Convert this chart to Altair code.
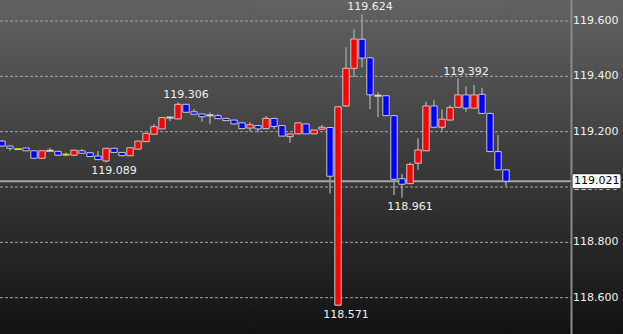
import altair as alt
import pandas as pd

opens = [119.166, 119.148, 119.137, 119.141, 119.131, 119.104, 119.131, 119.129, 119.117, 119.115,
         119.131, 119.124, 119.112, 119.094, 119.140, 119.125, 119.113, 119.137, 119.164, 119.191,
         119.210, 119.251, 119.246, 119.299, 119.272, 119.264, 119.259, 119.258, 119.248, 119.242,
         119.232, 119.213, 119.222, 119.211, 119.248, 119.222, 119.182, 119.192, 119.228, 119.192,
         119.209, 119.215, 118.573, 119.293, 119.429, 119.534, 119.467, 119.330, 119.330, 119.258,
         119.030, 119.012, 119.086, 119.131, 119.293, 119.216, 119.242, 119.288, 119.333, 119.285,
         119.335, 119.266, 119.128, 119.062]
highs = [119.170, 119.150, 119.139, 119.141, 119.131, 119.131, 119.141, 119.129, 119.124, 119.133,
         119.137, 119.124, 119.130, 119.140, 119.140, 119.125, 119.142, 119.166, 119.194, 119.227,
         119.251, 119.251, 119.306, 119.300, 119.282, 119.264, 119.269, 119.263, 119.248, 119.242,
         119.232, 119.234, 119.222, 119.257, 119.248, 119.222, 119.192, 119.232, 119.228, 119.206,
         119.224, 119.215, 119.291, 119.505, 119.570, 119.624, 119.467, 119.342, 119.330, 119.258,
         119.047, 119.089, 119.176, 119.308, 119.315, 119.281, 119.296, 119.392, 119.363, 119.369,
         119.359, 119.268, 119.188, 119.062]
lows = [119.146, 119.131, 119.136, 119.131, 119.104, 119.104, 119.131, 119.115, 119.112, 119.115,
        119.122, 119.110, 119.099, 119.089, 119.125, 119.113, 119.113, 119.137, 119.164, 119.191,
        119.210, 119.239, 119.246, 119.270, 119.263, 119.236, 119.227, 119.247, 119.240, 119.228,
        119.211, 119.202, 119.198, 119.211, 119.210, 119.184, 119.160, 119.192, 119.192, 119.192,
        119.209, 118.977, 118.571, 119.289, 119.397, 119.433, 119.281, 119.252, 119.258, 118.971,
        118.961, 119.012, 119.062, 119.131, 119.216, 119.204, 119.242, 119.288, 119.272, 119.285,
        119.266, 119.128, 119.062, 119.004]
closes = [119.148, 119.140, 119.137, 119.131, 119.104, 119.131, 119.131, 119.115, 119.117, 119.133,
          119.122, 119.110, 119.099, 119.140, 119.125, 119.113, 119.142, 119.166, 119.194, 119.218,
          119.251, 119.251, 119.299, 119.270, 119.263, 119.254, 119.259, 119.247, 119.240, 119.228,
          119.211, 119.225, 119.210, 119.248, 119.219, 119.184, 119.192, 119.232, 119.192, 119.206,
          119.216, 119.039, 119.290, 119.429, 119.535, 119.466, 119.333, 119.330, 119.258, 119.028,
          119.010, 119.082, 119.134, 119.293, 119.216, 119.245, 119.287, 119.333, 119.285, 119.333,
          119.266, 119.128, 119.062, 119.021]
doji_yellow = [2, 8]

grid_prices = [118.6, 118.8, 119.0, 119.2, 119.4, 119.6]
grid_labels = ["118.600", "118.800", "119.000", "119.200", "119.400", "119.600"]

last_price = [119.021]
last_label = ["119.021"]

ann_index = [45, 22, 57, 13, 42, 50]
ann_price = [119.624, 119.306, 119.392, 119.089, 118.571, 118.961]
ann_text = ["119.624", "119.306", "119.392", "119.089", "118.571", "118.961"]
ann_side = ["high", "high", "high", "low", "low", "low"]

n = len(opens)
rows = []
for i in range(n):
    o, c = opens[i], closes[i]
    d = "up" if c > o else ("down" if c < o else "flat")
    rows.append({"i": i, "open": o, "high": highs[i], "low": lows[i], "close": c, "dir": d,
                 "doji": ("yellow" if i in doji_yellow else "white") if d == "flat" else "none"})
df = pd.DataFrame(rows)
grid_df = pd.DataFrame({"price": grid_prices, "label": grid_labels})
last_df = pd.DataFrame({"price": last_price, "label": last_label})
ann_df = pd.DataFrame({"i": ann_index, "price": ann_price, "text": ann_text, "side": ann_side})

W, H = 623, 334
xscale = alt.Scale(domain=[-0.25, 77.625], range=[0, W], nice=False, zero=False)
yscale = alt.Scale(domain=[118.4688, 119.6759], range=[H, 0], nice=False, zero=False)
FONT = "DejaVu Sans"

bg = alt.Chart(pd.DataFrame({"a": [0]})).mark_rect(
    color=alt.Gradient(gradient="linear", x1=0, x2=0, y1=0, y2=1,
                       stops=[alt.GradientStop(color="#626262", offset=0),
                              alt.GradientStop(color="#121212", offset=1)])
).encode(x=alt.value(0), x2=alt.value(W), y=alt.value(0), y2=alt.value(H))

grid = alt.Chart(grid_df).mark_rule(color="#a8a8a8", strokeWidth=1, strokeDash=[3, 2]).encode(
    x=alt.value(0), x2=alt.value(571),
    y=alt.Y("price:Q", scale=yscale, axis=None))

axis_line = alt.Chart(pd.DataFrame({"a": [0]})).mark_rule(color="#8a8a8a", strokeWidth=2).encode(
    x=alt.value(571.5), y=alt.value(0), y2=alt.value(H))

last_line = alt.Chart(last_df).mark_rule(color="#a8a8a8", strokeWidth=2).encode(
    x=alt.value(0), x2=alt.value(573),
    y=alt.Y("price:Q", scale=yscale, axis=None))

labels = alt.Chart(grid_df).mark_text(align="left", baseline="middle", font=FONT, fontSize=11,
                                      color="#f0f0f0").encode(
    x=alt.value(573), y=alt.Y("price:Q", scale=yscale, axis=None), text="label:N")

wicks = alt.Chart(df).mark_rule(color="#9c9c9c", strokeWidth=1.5).encode(
    x=alt.X("i:Q", scale=xscale, axis=None),
    y=alt.Y("low:Q", scale=yscale, axis=None), y2="high:Q")

bodies = alt.Chart(df).transform_filter("datum.dir != 'flat'").transform_calculate(
    xl="datum.i - 0.4", xr="datum.i + 0.4"
).mark_rect(stroke="#c8c8c8", strokeWidth=1).encode(
    x=alt.X("xl:Q", scale=xscale, axis=None), x2="xr:Q",
    y=alt.Y("open:Q", scale=yscale, axis=None), y2="close:Q",
    fill=alt.Fill("dir:N", scale=alt.Scale(domain=["up", "down"], range=["#ff0000", "#0000ff"]),
                  legend=None))

dojis = alt.Chart(df).transform_filter("datum.dir == 'flat'").transform_calculate(
    xl="datum.i - 0.45", xr="datum.i + 0.45"
).mark_rule(strokeWidth=2).encode(
    x=alt.X("xl:Q", scale=xscale, axis=None), x2="xr:Q",
    y=alt.Y("open:Q", scale=yscale, axis=None),
    color=alt.Color("doji:N", scale=alt.Scale(domain=["yellow", "white"], range=["#d8d800", "#d8d8d8"]),
                    legend=None))

box = alt.Chart(last_df).transform_calculate(
    yt="datum.price + 7.5/276.7", yb="datum.price - 7.5/276.7"
).mark_rect(fill="#ffffff", stroke="#222222", strokeWidth=1, cornerRadius=2).encode(
    x=alt.value(572), x2=alt.value(621),
    y=alt.Y("yt:Q", scale=yscale, axis=None), y2="yb:Q")

box_text = alt.Chart(last_df).mark_text(align="left", baseline="middle", font=FONT, fontSize=11,
                                        color="#000000").encode(
    x=alt.value(574), y=alt.Y("price:Q", scale=yscale, axis=None), text="label:N")

ann_hi = alt.Chart(ann_df).transform_filter("datum.side == 'high'").mark_text(
    align="center", baseline="bottom", font=FONT, fontSize=11, color="#f0f0f0", dx=8, dy=-2
).encode(x=alt.X("i:Q", scale=xscale, axis=None), y=alt.Y("price:Q", scale=yscale, axis=None),
         text="text:N")

ann_lo = alt.Chart(ann_df).transform_filter("datum.side == 'low'").mark_text(
    align="center", baseline="top", font=FONT, fontSize=11, color="#f0f0f0", dx=8, dy=3
).encode(x=alt.X("i:Q", scale=xscale, axis=None), y=alt.Y("price:Q", scale=yscale, axis=None),
         text="text:N")

chart = alt.layer(bg, grid, axis_line, last_line, labels, wicks, bodies, dojis, box, box_text,
                  ann_hi, ann_lo).properties(
    width=W, height=H, padding=0, autosize="none", background="#1a1a1a"
).configure_view(stroke=None)

chart.save("out.html", embed_options={"renderer": "svg", "actions": False})
